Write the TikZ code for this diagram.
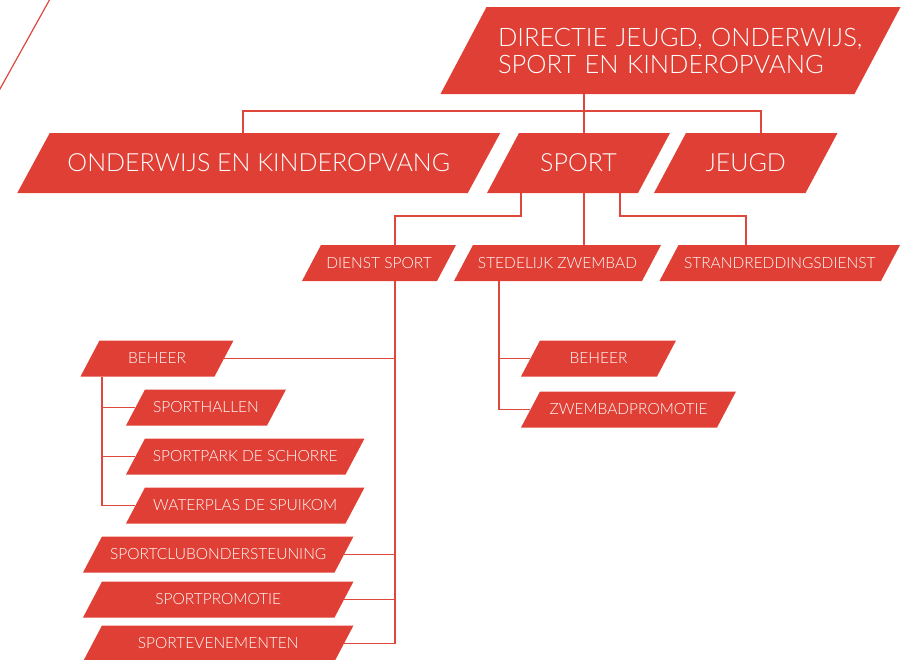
\documentclass[tikz,border=0pt]{standalone}
\usepackage{fontspec}
\setmainfont{Lato Light}
\usetikzlibrary{calc}
\definecolor{boxred}{HTML}{DF3F34}
\definecolor{linered}{HTML}{E0473C}
% opts, name, cx, cy, w, h, skew, text
\newcommand\pbox[8][]{%
  \fill[boxred] ({#3-#5/2-#7/2},{#4+#6/2}) -- ({#3-#5/2+#7/2},{#4-#6/2})
     -- ({#3+#5/2+#7/2},{#4-#6/2}) -- ({#3+#5/2-#7/2},{#4+#6/2}) -- cycle;
  \node[boxtext,minimum width=#5pt,minimum height=#6pt,#1] (#2) at (#3,#4) {#8};
}
\begin{document}
\begin{tikzpicture}[x=1pt,y=-1pt,
  boxtext/.style={text=white,inner sep=0pt,font=\fontsize{15.5}{18}\selectfont},
  big/.style={font=\fontsize{25}{30}\selectfont},
  conn/.style={draw=linered,line width=1.2pt}]
\useasboundingbox (0,0) rectangle (901,659);
\draw[conn] (50,-1) -- (-0.6,90);

\pbox[font=\fontsize{25.5}{27}\selectfont,text width=345pt,align=left]{dir}{670.5}{50.5}{414}{87}{46}{\mbox{DIRECTIE JEUGD, ONDERWIJS,}\\\mbox{SPORT EN KINDEROPVANG}}
\pbox[big]{ond}{258.75}{163}{450.5}{60}{32.5}{ONDERWIJS EN KINDEROPVANG}
\pbox[big]{sport}{578.5}{163}{151}{60}{32}{SPORT}
\pbox[big]{jeugd}{745.75}{163}{151.5}{60}{32}{JEUGD}
\pbox{dienst}{379}{263}{135}{36}{19}{DIENST SPORT}
\pbox{sted}{557.5}{263}{188}{36}{19}{STEDELIJK ZWEMBAD}
\pbox{strand}{779.75}{263}{221.5}{36}{19}{STRANDREDDINGSDIENST}
\pbox{beheerA}{157}{358.5}{134}{36}{19}{BEHEER}
\pbox{hallen}{206}{407.5}{141}{36}{19}{SPORTHALLEN}
\pbox{park}{245.25}{456.5}{219.5}{36}{19}{SPORTPARK DE SCHORRE}
\pbox{water}{245.25}{505.5}{219.5}{36}{19}{WATERPLAS DE SPUIKOM}
\pbox{club}{218.25}{554.5}{251.5}{36}{19}{SPORTCLUBONDERSTEUNING}
\pbox{promo}{218.25}{599.5}{251.5}{36}{19}{SPORTPROMOTIE}
\pbox{evene}{218.25}{643.5}{251.5}{36}{19}{SPORTEVENEMENTEN}
\pbox{beheerB}{598.5}{358.5}{136}{36}{19}{BEHEER}
\pbox{zwem}{628.5}{409.5}{196}{36}{19}{ZWEMBADPROMOTIE}

\coordinate (b1) at (584,111);
\coordinate (b1L) at (243,111);
\coordinate (b1R) at (761,111);
\coordinate (s1) at (521,216);
\coordinate (s3) at (620,216);
\coordinate (b2L) at (395,216);
\coordinate (b2R) at (746,216);
\coordinate (v1) at (102,400);
\coordinate (v2) at (499,300);

\draw[conn] (dir.south -| b1) -- (sport.north -| b1);
\draw[conn] (ond.north -| b1L) -- (b1L) -- (b1R) -- (jeugd.north -| b1R);
\draw[conn] (sport.south -| s1) -- (s1) -- (b2L) -- (dienst.north -| b2L);
\draw[conn] (sport.south -| b1) -- (sted.north -| b1);
\draw[conn] (sport.south -| s3) -- (s3) -- (b2R) -- (strand.north -| b2R);
\draw[conn] (dienst.south -| b2L) -- (b2L |- evene.east);
\foreach \n in {beheerA,club,promo,evene} \draw[conn] (\n.east) -- (\n.east -| b2L);
\draw[conn] (beheerA.south -| v1) -- (v1 |- water.west);
\foreach \n in {hallen,park,water} \draw[conn] (v1 |- \n.west) -- (\n.west);
\draw[conn] (sted.south -| v2) -- (v2 |- zwem.west);
\foreach \n in {beheerB,zwem} \draw[conn] (v2 |- \n.west) -- (\n.west);
\end{tikzpicture}
\end{document}
